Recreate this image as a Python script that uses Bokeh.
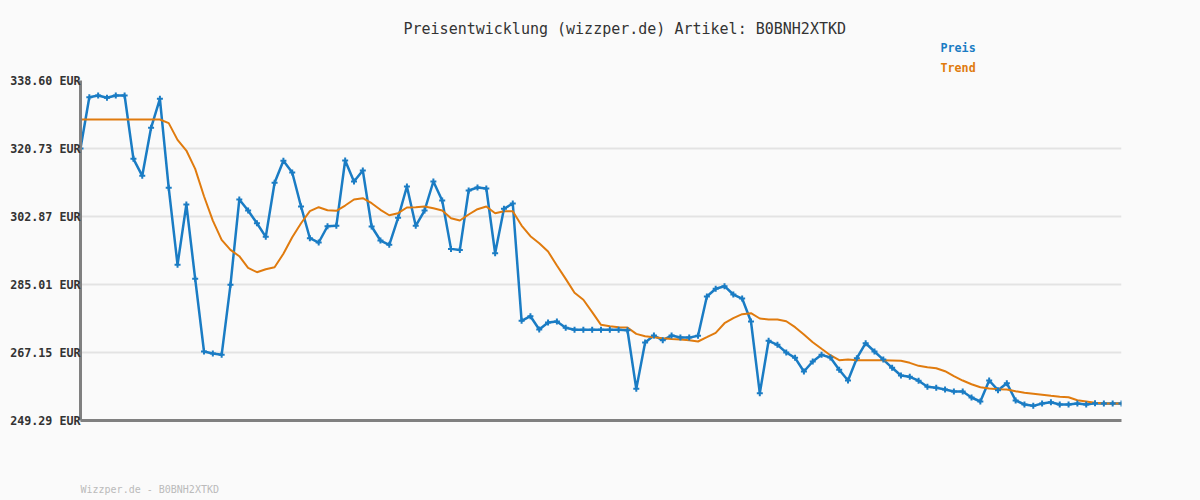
from bokeh.plotting import figure
from bokeh.models import FixedTicker, Range1d, Title, ColumnDataSource
from bokeh.embed import file_html
from bokeh.resources import INLINE

title_text = "Preisentwicklung (wizzper.de) Artikel: B0BNH2XTKD"
footer_text = "Wizzper.de - B0BNH2XTKD"
legend_labels = ["Preis", "Trend"]
y_ticks = [249.29, 267.15, 285.01, 302.87, 320.73, 338.60]
y_tick_labels = ["249.29 EUR", "267.15 EUR", "285.01 EUR", "302.87 EUR", "320.73 EUR", "338.60 EUR"]

preis = [
    320.73, 334.2, 334.66, 334.05, 334.66, 334.66, 318.03, 313.56, 326.17, 333.79,
    310.41, 290.19, 306.03, 286.5, 267.41, 266.88, 266.54, 284.93, 307.34, 304.45,
    301.1, 297.53, 311.73, 317.5, 314.43, 305.5, 297.17, 296.04, 300.32, 300.43,
    317.58, 312.07, 314.96, 300.24, 296.57, 295.43, 302.53, 310.75, 300.43, 304.45,
    312.07, 307.08, 294.37, 294.1, 309.7, 310.49, 310.23, 293.23, 304.9, 306.29,
    275.47, 276.69, 273.19, 275.03, 275.29, 273.63, 273.11, 273.11, 273.11, 273.11,
    273.11, 273.11, 273.0, 257.6, 269.8, 271.61, 270.38, 271.61, 271.09, 271.06,
    271.53, 281.86, 283.88, 284.57, 282.38, 281.33, 275.29, 256.46, 270.22, 269.17,
    267.15, 265.75, 262.16, 264.78, 266.54, 265.83, 262.6, 259.79, 265.65, 269.59,
    267.41, 265.3, 263.13, 261.11, 260.76, 259.75, 258.14, 257.87, 257.43, 256.9,
    256.9, 255.33, 254.28, 259.79, 257.25, 259.09, 254.54, 253.49, 253.14, 253.75,
    254.09, 253.49, 253.49, 253.75, 253.49, 253.84, 253.75, 253.75, 253.75,
]

trend = [
    328.36, 328.36, 328.36, 328.36, 328.36, 328.36, 328.36, 328.36, 328.36, 328.36,
    327.4, 323.0, 320.2, 315.4, 308.2, 301.8, 296.75, 294.1, 292.45, 289.4,
    288.24, 289.03, 289.56, 293.08, 297.44, 301.1, 304.27, 305.32, 304.53, 304.36,
    305.76, 307.34, 307.68, 306.37, 304.63, 303.2, 303.74, 305.24, 305.32, 305.5,
    305.05, 304.45, 302.43, 301.82, 303.4, 304.8, 305.5, 303.74, 304.27, 304.27,
    300.5, 297.7, 295.86, 293.68, 290.0, 286.5, 282.83, 281.0, 277.74, 274.42,
    274.06, 273.8, 273.71, 272.05, 271.43, 271.17, 270.91, 270.73, 270.56, 270.38,
    270.04, 271.17, 272.32, 274.84, 276.16, 277.21, 277.47, 276.08, 275.82, 275.82,
    275.37, 273.8, 271.88, 269.85, 268.12, 266.44, 265.12, 265.31, 265.12, 265.1,
    265.1, 265.1, 265.05, 264.96, 264.44, 263.65, 263.29, 263.02, 262.24, 260.92,
    259.79, 258.82, 258.03, 257.69, 257.5, 257.43, 256.98, 256.56, 256.3, 256.04,
    255.77, 255.51, 255.41, 254.62, 254.28, 253.94, 253.75, 253.75, 253.75,
]

idx = list(range(len(preis)))
src = ColumnDataSource(dict(x=idx, preis=preis, trend=trend))

BG = "#fafafa"
BLUE = "#1a7cc4"
ORANGE = "#e07b0e"
MONO = "DejaVu Sans Mono"

p = figure(width=1200, height=500, output_backend="svg", toolbar_location=None,
           x_range=Range1d(0, len(preis) - 1), y_range=Range1d(y_ticks[0], y_ticks[-1]),
           min_border_left=80, min_border_right=79, min_border_top=80, min_border_bottom=80)
p.background_fill_color = BG
p.border_fill_color = BG
p.outline_line_color = None

p.xgrid.grid_line_color = None
p.ygrid.grid_line_color = "#e3e3e3"
p.ygrid.grid_line_width = 2
p.yaxis.ticker = FixedTicker(ticks=y_ticks)
p.yaxis.major_label_overrides = {t: l for t, l in zip(y_ticks, y_tick_labels)}
p.yaxis.major_label_text_font = MONO
p.yaxis.major_label_text_font_style = "bold"
p.yaxis.major_label_text_font_size = "11.7px"
p.yaxis.major_label_text_color = "#333333"
p.yaxis.major_label_standoff = -6
for ax in (p.xaxis, p.yaxis):
    ax.axis_line_color = "#808080"
    ax.axis_line_width = 3
    ax.major_tick_line_color = None
    ax.minor_tick_line_color = None
p.xaxis.major_label_text_font_size = "0px"
p.xaxis.major_label_text_color = None
# blank axis label only reserves vertical room so the footer sits near the bottom edge
p.xaxis.axis_label = " "
p.xaxis.axis_label_text_font_size = "10px"
p.xaxis.axis_label_standoff = 38

p.line("x", "preis", source=src, line_color=BLUE, line_width=2.5)
p.line("x", "trend", source=src, line_color=ORANGE, line_width=2)
p.scatter("x", "preis", source=src, marker="cross", size=6, line_color=BLUE, line_width=2)

# stacked titles above the frame: first added sits closest to the frame
p.add_layout(Title(text=legend_labels[1], align="left", offset=860, standoff=12,
                   text_font=MONO, text_font_style="bold", text_font_size="11.7px",
                   text_color=ORANGE), "above")
p.add_layout(Title(text=legend_labels[0], align="left", offset=860, standoff=-4,
                   text_font=MONO, text_font_style="bold", text_font_size="11.7px",
                   text_color=BLUE), "above")
p.add_layout(Title(text=title_text, align="left", offset=323, standoff=6,
                   text_font=MONO, text_font_style="normal", text_font_size="15px",
                   text_color="#333333"), "above")
p.add_layout(Title(text=footer_text, align="left", offset=0, standoff=6,
                   text_font=MONO, text_font_style="normal", text_font_size="10px",
                   text_color="#bbbbbb"), "below")

html = file_html(p, INLINE)
html = html.replace("<head>", "<head><style>html,body{margin:0;padding:0;overflow:hidden;background:#fafafa;}</style>", 1)
open("out.html", "w").write(html)
